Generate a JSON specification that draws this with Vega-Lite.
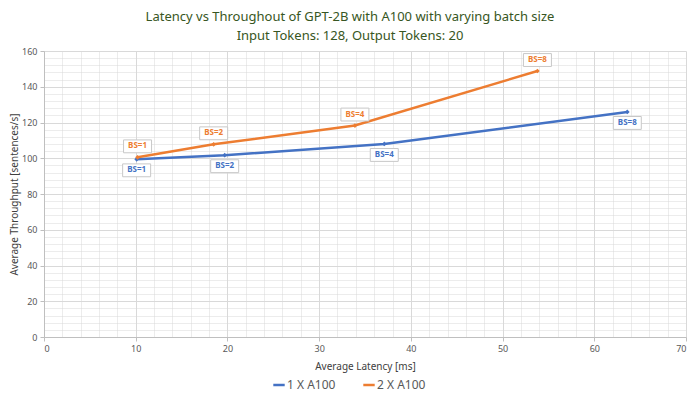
{
  "$schema": "https://vega.github.io/schema/vega-lite/v6.json",
  "autosize": {"type": "none"},
  "padding": {"left": 44, "top": 51, "right": 14, "bottom": 62},
  "width": 642,
  "height": 286,
  "background": "white",
  "config": {
    "font": "Noto Sans",
    "view": {"stroke": null}
  },
  "title": {
    "text": ["Latency vs Throughout of GPT-2B with A100 with varying batch size", "Input Tokens: 128, Output Tokens: 20"],
    "fontSize": 13,
    "fontWeight": "normal",
    "color": "#375623",
    "anchor": "middle",
    "dx": -15,
    "dy": 2,
    "offset": 6,
    "lineHeight": 19
  },
  "data": {
    "values": [
      {"series": "1 X A100", "label": "BS=1", "latency": 10.1, "throughput": 99.4},
      {"series": "1 X A100", "label": "BS=2", "latency": 19.7, "throughput": 101.7},
      {"series": "1 X A100", "label": "BS=4", "latency": 37.1, "throughput": 108.0},
      {"series": "1 X A100", "label": "BS=8", "latency": 63.6, "throughput": 125.9},
      {"series": "2 X A100", "label": "BS=1", "latency": 10.2, "throughput": 100.5},
      {"series": "2 X A100", "label": "BS=2", "latency": 18.5, "throughput": 107.8},
      {"series": "2 X A100", "label": "BS=4", "latency": 33.9, "throughput": 118.3},
      {"series": "2 X A100", "label": "BS=8", "latency": 53.8, "throughput": 148.8}
    ]
  },
  "resolve": {"axis": {"x": "independent", "y": "independent"}},
  "layer": [
    {
      "mark": {"type": "point", "opacity": 0},
      "encoding": {
        "x": {"field": "latency", "type": "quantitative", "scale": {"domain": [0, 70], "nice": false},
          "axis": {"orient": "top", "values": [2,4,6,8,12,14,16,18,22,24,26,28,32,34,36,38,42,44,46,48,52,54,56,58,62,64,66,68],
            "labels": false, "ticks": false, "domain": false, "title": null, "grid": true, "gridColor": "#d9d9d9", "gridDash": [1, 1], "gridWidth": 1}},
        "y": {"field": "throughput", "type": "quantitative", "scale": {"domain": [0, 160], "nice": false},
          "axis": {"orient": "right", "values": [4,8,12,16,24,28,32,36,44,48,52,56,64,68,72,76,84,88,92,96,104,108,112,116,124,128,132,136,144,148,152,156],
            "labels": false, "ticks": false, "domain": false, "title": null, "grid": true, "gridColor": "#d9d9d9", "gridDash": [1, 1], "gridWidth": 1}}
      }
    },
    {
      "encoding": {
        "x": {"field": "latency", "type": "quantitative", "scale": {"domain": [0, 70], "nice": false},
          "axis": {"orient": "bottom", "values": [0,10,20,30,40,50,60,70], "title": "Average Latency [ms]",
            "grid": true, "gridColor": "#d9d9d9", "gridWidth": 1, "domainColor": "#bfbfbf", "tickColor": "#bfbfbf", "tickSize": 4,
            "labelFontSize": 9, "labelColor": "#595959", "labelPadding": 3,
            "titleFontSize": 10, "titleFontWeight": "normal", "titleColor": "#404040", "titlePadding": 8}},
        "y": {"field": "throughput", "type": "quantitative", "scale": {"domain": [0, 160], "nice": false},
          "axis": {"orient": "left", "values": [0,20,40,60,80,100,120,140,160], "title": "Average Throughput [sentences/s]",
            "grid": true, "gridColor": "#d9d9d9", "gridWidth": 1, "domainColor": "#bfbfbf", "tickColor": "#bfbfbf", "tickSize": 4,
            "labelFontSize": 9, "labelColor": "#595959", "labelPadding": 3,
            "titleFontSize": 10, "titleFontWeight": "normal", "titleColor": "#404040", "titlePadding": 2}},
        "color": {"field": "series", "type": "nominal",
          "scale": {"domain": ["1 X A100", "2 X A100"], "range": ["#4472C4", "#ED7D31"]},
          "legend": {"title": null, "orient": "none", "legendX": 228, "legendY": 327, "direction": "horizontal",
            "symbolType": "stroke", "symbolStrokeWidth": 2.5, "symbolSize": 130, "labelFontSize": 12, "labelColor": "#595959", "columnPadding": 22, "labelOffset": 1}}
      },
      "layer": [
        {
          "mark": {"type": "line", "strokeWidth": 2.5, "point": {"shape": "diamond", "size": 22, "filled": true}}
        },
        {
          "transform": [{"filter": "datum.series == '1 X A100'"}],
          "mark": {"type": "point", "shape": "M-1,-0.46H1V0.46H-1Z", "size": 784, "filled": true, "fill": "white", "stroke": "#c8c8c8", "strokeWidth": 1, "opacity": 1, "yOffset": 11}
        },
        {
          "transform": [{"filter": "datum.series == '2 X A100'"}],
          "mark": {"type": "point", "shape": "M-1,-0.46H1V0.46H-1Z", "size": 784, "filled": true, "fill": "white", "stroke": "#c8c8c8", "strokeWidth": 1, "opacity": 1, "yOffset": -11}
        },
        {
          "transform": [{"filter": "datum.series == '1 X A100'"}],
          "mark": {"type": "text", "fontSize": 8, "fontWeight": "bold", "dy": 11, "baseline": "middle"},
          "encoding": {"text": {"field": "label"}}
        },
        {
          "transform": [{"filter": "datum.series == '2 X A100'"}],
          "mark": {"type": "text", "fontSize": 8, "fontWeight": "bold", "dy": -11, "baseline": "middle"},
          "encoding": {"text": {"field": "label"}}
        }
      ]
    }
  ]
}
